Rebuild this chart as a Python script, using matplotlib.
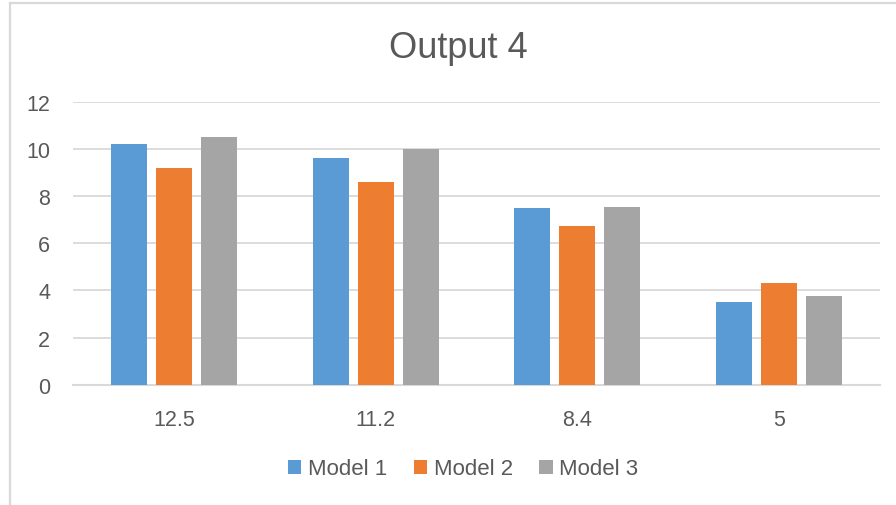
import numpy as np
import matplotlib.pyplot as plt
from matplotlib.lines import Line2D

categories = ['12.5', '11.2', '8.4', '5']
model1 = [10.2, 9.6, 7.5, 3.5]
model2 = [9.2, 8.6, 6.75, 4.3]
model3 = [10.5, 10.0, 7.55, 3.75]
series_names = ['Model 1', 'Model 2', 'Model 3']
colors = ['#5b9bd5', '#ed7d31', '#a5a5a5']

plt.rcParams['font.family'] = ['Liberation Sans', 'DejaVu Sans']
txt = '#595959'
grid = '#d9d9d9'

fig = plt.figure(figsize=(8.96, 5.06), dpi=100)
ax = fig.add_axes([0.0815, 0.2372, 0.9005, 0.5602])

x = np.arange(len(categories))
w = 0.178
step = 0.223
for i, (vals, name) in enumerate(zip([model1, model2, model3], series_names)):
        ax.bar(x + (i - 1) * step, vals, width=w, color=colors[i], label=name, zorder=3)

ax.set_xlim(-0.5, len(categories) - 0.5)
ax.set_ylim(0, 12)
ax.set_yticks(range(0, 13, 2))
ax.set_xticks(x)
ax.set_xticklabels(categories)
ax.tick_params(axis='both', length=0, labelsize=15.5, colors=txt)
ax.tick_params(axis='y', pad=16.5)
ax.tick_params(axis='x', pad=17)
ax.yaxis.grid(True, color=grid, linewidth=1.3, zorder=0)
for s in ['top', 'right', 'left']:
        ax.spines[s].set_visible(False)
ax.spines['bottom'].set_color(grid)
ax.spines['bottom'].set_linewidth(1.5)

fig.text(0.511, 0.904, 'Output 4', ha='center', va='center', fontsize=26, color=txt)

ax.legend(loc='center', bbox_to_anchor=(463 / 896, 1 - 470 / 506), bbox_transform=fig.transFigure,
          ncol=3, frameon=False, fontsize=16, labelcolor=txt,
          handlelength=0.6, handleheight=0.6, handletextpad=0.3, columnspacing=1.2,
          borderpad=0, borderaxespad=0)

# outer chart border (left and top edges)
fig.add_artist(Line2D([9.5 / 896, 9.5 / 896], [0, 1 - 4 / 506], transform=fig.transFigure,
                      color=grid, linewidth=1.6))
fig.add_artist(Line2D([9.5 / 896, 1], [1 - 4 / 506, 1 - 4 / 506], transform=fig.transFigure,
                      color=grid, linewidth=1.6))

fig.savefig('out.png', dpi=100)
